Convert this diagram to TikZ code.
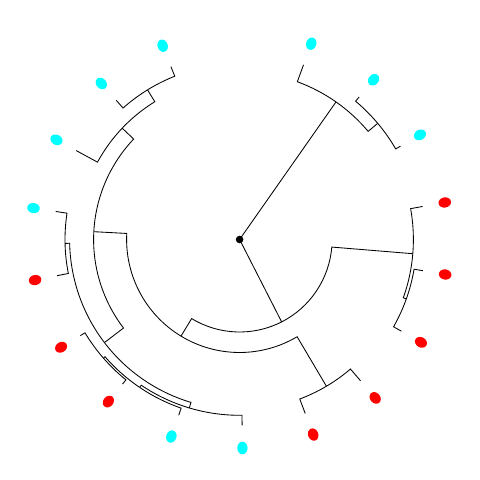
\documentclass[tikz,border=0pt]{standalone}
\usetikzlibrary{shapes.geometric}
\definecolor{tipcyan}{RGB}{0,255,255}
\definecolor{tipred}{RGB}{255,0,0}
\tikzset{
  branch/.style={draw=black,line width=0.85pt},
  tipdot/.style={ellipse,inner sep=0pt,minimum width=12.6pt,minimum height=10.2pt,draw=none},
  cdot/.style={tipdot,fill=tipcyan},
  rdot/.style={tipdot,fill=tipred},
}
% \br{parent}{parent angle}{parent radius}{child}{child angle}
\newcommand\br[5]{\draw[branch] (#1) arc[start angle=#2,end angle=#5,radius=#3] -- (#4);}
\begin{document}
\begin{tikzpicture}[x=1pt,y=1pt]
\useasboundingbox (-239.6,-240.5) rectangle (240.4,239.5);
% tips
\def\tr{186}
\coordinate (t0) at (69.9:\tr);
\coordinate (t1) at (50.01:\tr);
\coordinate (t2) at (30.12:\tr);
\coordinate (t3) at (10.23:\tr);
\coordinate (t4) at (-9.66:\tr);
\coordinate (t5) at (-29.55:\tr);
\coordinate (t6) at (-49.44:\tr);
\coordinate (t7) at (-69.33:\tr);
\coordinate (t8) at (-89.22:\tr);
\coordinate (t9) at (-109.11:\tr);
\coordinate (t10) at (-129.0:\tr);
\coordinate (t11) at (-148.89:\tr);
\coordinate (t12) at (-168.78:\tr);
\coordinate (t13) at (-188.67:\tr);
\coordinate (t14) at (-208.56:\tr);
\coordinate (t15) at (-228.45:\tr);
\coordinate (t16) at (-248.34:\tr);
% internal nodes
\coordinate (root) at (0,0);
\coordinate (A) at (54.98:168);
\coordinate (B) at (40.065:180.5);
\coordinate (C) at (-62.96:92.5);
\coordinate (D) at (-4.69:173.8);
\coordinate (H) at (-19.605:177);
\coordinate (E) at (-121.23:113);
\coordinate (G) at (-59.385:170.5);
\coordinate (F) at (-183.07:146);
\coordinate (I) at (-223.48:161.8);
\coordinate (J) at (-238.395:175.7);
\coordinate (K) at (-142.67:170);
\coordinate (L) at (-178.725:174.6);
\coordinate (M) at (-106.62:175.8);
\coordinate (N) at (-124.03:178.5);
\coordinate (O) at (-138.945:180.6);
% root
\draw[branch] (root) -- (A);
\draw[branch] (root) -- (C);
% A
\br{A}{54.98}{168}{t0}{69.9}
\br{A}{54.98}{168}{B}{40.065}
\br{B}{40.065}{180.5}{t1}{50.01}
\br{B}{40.065}{180.5}{t2}{30.12}
% C
\br{C}{-62.96}{92.5}{D}{-4.69}
\br{C}{-62.96}{92.5}{E}{-121.23}
\br{D}{-4.69}{173.8}{t3}{10.23}
\br{D}{-4.69}{173.8}{H}{-19.605}
\br{H}{-19.605}{177}{t4}{-9.66}
\br{H}{-19.605}{177}{t5}{-29.55}
\br{E}{-121.23}{113}{G}{-59.385}
\br{E}{-121.23}{113}{F}{-183.07}
\br{G}{-59.385}{170.5}{t6}{-49.44}
\br{G}{-59.385}{170.5}{t7}{-69.33}
\br{F}{-183.07}{146}{K}{-142.67}
\br{F}{-183.07}{146}{I}{-223.48}
\br{I}{-223.48}{161.8}{t14}{-208.56}
\br{I}{-223.48}{161.8}{J}{-238.395}
\br{J}{-238.395}{175.7}{t15}{-228.45}
\br{J}{-238.395}{175.7}{t16}{-248.34}
\br{K}{-142.67}{170}{M}{-106.62}
\br{K}{-142.67}{170}{L}{-178.725}
\br{L}{-178.725}{174.6}{t12}{-168.78}
\br{L}{-178.725}{174.6}{t13}{-188.67}
\br{M}{-106.62}{175.8}{t8}{-89.22}
\br{M}{-106.62}{175.8}{N}{-124.03}
\br{N}{-124.03}{178.5}{t9}{-109.11}
\br{N}{-124.03}{178.5}{O}{-138.945}
\br{O}{-138.945}{180.6}{t10}{-129.0}
\br{O}{-138.945}{180.6}{t11}{-148.89}
% root point
\fill[black] (root) circle[radius=3.8pt];
% tip points
\def\dr{208.5}
\node[cdot,rotate=69.9] (d0) at (69.9:\dr) {};
\node[cdot,rotate=50.01] (d1) at (50.01:\dr) {};
\node[cdot,rotate=30.12] (d2) at (30.12:\dr) {};
\node[rdot,rotate=10.23] (d3) at (10.23:\dr) {};
\node[rdot,rotate=-9.66] (d4) at (-9.66:\dr) {};
\node[rdot,rotate=-29.55] (d5) at (-29.55:\dr) {};
\node[rdot,rotate=-49.44] (d6) at (-49.44:\dr) {};
\node[rdot,rotate=-69.33] (d7) at (-69.33:\dr) {};
\node[cdot,rotate=-89.22] (d8) at (-89.22:\dr) {};
\node[cdot,rotate=-109.11] (d9) at (-109.11:\dr) {};
\node[rdot,rotate=-129.0] (d10) at (-129.0:\dr) {};
\node[rdot,rotate=-148.89] (d11) at (-148.89:\dr) {};
\node[rdot,rotate=-168.78] (d12) at (-168.78:\dr) {};
\node[cdot,rotate=-188.67] (d13) at (-188.67:\dr) {};
\node[cdot,rotate=-208.56] (d14) at (-208.56:\dr) {};
\node[cdot,rotate=-228.45] (d15) at (-228.45:\dr) {};
\node[cdot,rotate=-248.34] (d16) at (-248.34:\dr) {};
\end{tikzpicture}
\end{document}
